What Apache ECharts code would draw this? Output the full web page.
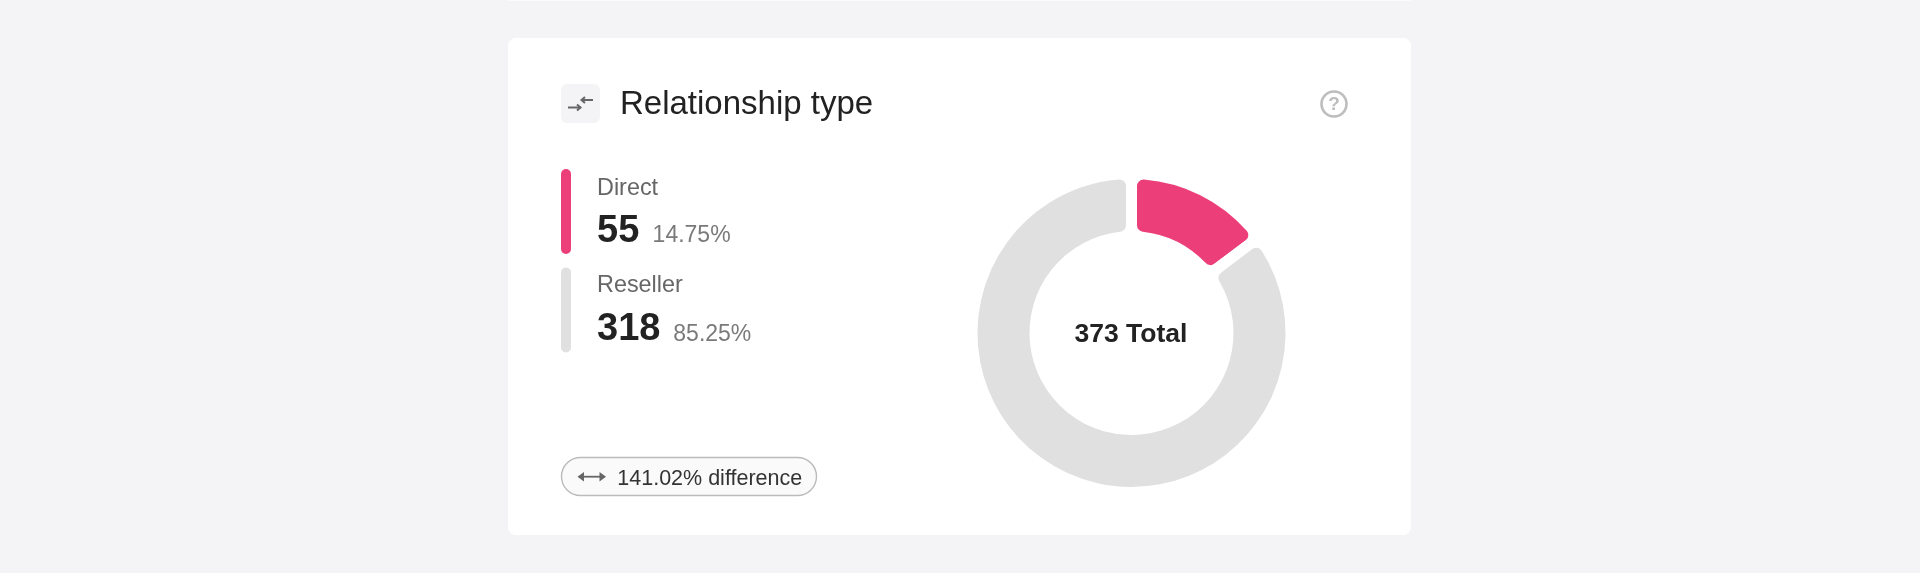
<!DOCTYPE html>
<html><head><meta charset="utf-8">
<style>html,body{margin:0;padding:0;background:#f4f4f6}#c{width:1920px;height:573px}</style>
<script src="https://cdn.jsdelivr.net/npm/echarts@6/dist/echarts.min.js"></script>
</head><body><div id="c"></div>
<script>
const chartTitle = 'Relationship type';
const categories = ['Direct', 'Reseller'];
const values = [55, 318];
const shares = ['14.75%', '85.25%'];
const colours = ['#ec3e78', '#e0e0e0'];
const totalLabel = '373 Total';
const differenceLabel = '141.02% difference';

const FF = '"Liberation Sans", Arial, sans-serif';
const text = (x, baseline, t, size, fill, weight, align) => ({
  type: 'text', x, y: baseline - 0.3465 * size,
  style: { text: t, font: `${weight || 'normal'} ${size}px ${FF}`, fill, textAlign: align || 'left', textVerticalAlign: 'middle' }
});
const rect = (x, y, w, h, r, fill, extra) => ({
  type: 'rect', shape: { x, y, width: w, height: h, r },
  style: Object.assign({ fill }, extra || {})
});
const line = (pts, stroke, w) => ({ type: 'polyline', shape: { points: pts }, style: { stroke, lineWidth: w, fill: null } });
const tri = (pts, fill) => ({ type: 'polygon', shape: { points: pts }, style: { fill } });

const ICON = '#666666';
const graphics = [
  rect(508, 0, 903, 1, 0, '#fbfbfc'),
  rect(508, 38, 903, 497, 8, '#ffffff'),
  rect(561, 84, 39, 39, 6, '#f4f4f6'),
  line([[568, 107.5], [580.5, 107.5]], ICON, 2),
  line([[577, 104.5], [580.5, 107.5], [577, 110.5]], ICON, 2),
  line([[581.5, 100], [593, 100]], ICON, 2),
  line([[585, 97], [581.5, 100], [585, 103]], ICON, 2),
  text(620, 116.7, chartTitle, 33, '#222222'),
  {
    type: 'circle', shape: { cx: 1334, cy: 104, r: 12.5 },
    style: { fill: null, stroke: '#bdbdbd', lineWidth: 2.6 }
  },
  text(1334, 111, '?', 19, '#bdbdbd', 'bold', 'center'),
  rect(561.5, 457.5, 255, 38, 19, '#fafafa', { stroke: '#bbbbbb', lineWidth: 1.4 }),
  line([[580, 476.7], [603, 476.7]], ICON, 1.8),
  tri([[577.5, 476.7], [584, 472], [584, 481.4]], ICON),
  tri([[606, 476.7], [599.5, 472], [599.5, 481.4]], ICON),
  text(617.3, 486.5, differenceLabel, 21.5, '#333333'),
  text(1131, 343.5, totalLabel, 26.5, '#222222', 'bold', 'center')
];
const rows = [
  { top: 169, label: 196.7, value: 244.2, shareValue: 243.5, shareX: 652.6 },
  { top: 267.5, label: 294, value: 342.2, shareValue: 342.2, shareX: 673.3 }
];
categories.forEach((c, i) => {
  const p = rows[i];
  graphics.push(rect(561, p.top, 10, 85, 5, colours[i]));
  graphics.push(text(597, p.label, c, 23.4, '#666666'));
  graphics.push(text(597, p.value, String(values[i]), 38, '#222222', 'bold'));
  graphics.push(text(p.shareX, p.shareValue, shares[i], 23, '#7a7a7a'));
});

const chart = echarts.init(document.getElementById('c'), null, { renderer: 'canvas' });
chart.setOption({
  backgroundColor: '#f4f4f6',
  animation: false,
  graphic: { elements: graphics },
  series: [{
    type: 'pie',
    center: [1131.5, 333],
    radius: [96.5, 159.5],
    startAngle: 90,
    clockwise: true,
    silent: true,
    label: { show: false },
    labelLine: { show: false },
    itemStyle: { borderColor: '#ffffff', borderWidth: 11, borderRadius: 12 },
    data: categories.map((name, i) => ({ name, value: values[i], itemStyle: { color: colours[i] } }))
  }]
});
</script></body></html>
